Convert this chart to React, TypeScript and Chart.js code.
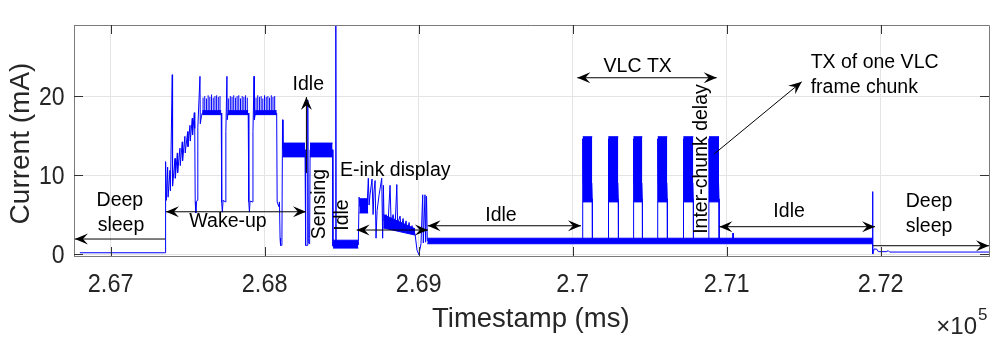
import React, { useEffect, useRef } from "react";
import { Chart, registerables } from "chart.js";

Chart.register(...registerables);

// ---------- axis data ----------
const xTicks = [267000, 268000, 269000, 270000, 271000, 272000];
const xTickLabels = ["2.67", "2.68", "2.69", "2.7", "2.71", "2.72"];
const yTicks = [0, 10, 20];
const yTickLabels = ["0", "10", "20"];
const xRange = [266762, 272703];
const yRange = [-0.25, 29];

// ---------- current trace [timestamp ms, current mA] ----------
const sleepTrace = [
  [266800, 0.16], [267352, 0.16],
];
const wakeupTrace = [
  [267353, 0.16], [267354, 6.4], [267356, 8.3], [267358, 6.5],
  [267359, 11.7], [267362, 6.8], [267370, 11.0], [267373, 7.2],
  [267385, 10.6], [267388, 8.0], [267400, 22.7], [267402, 8.6],
  [267418, 12.1], [267420, 9.6], [267433, 12.8], [267435, 10.3],
  [267450, 13.4], [267452, 11.2], [267465, 14.2], [267467, 11.8],
  [267482, 14.9], [267484, 12.8], [267500, 15.5], [267502, 13.6],
  [267515, 16.3], [267517, 14.3], [267530, 17.2], [267532, 15.1],
  [267543, 17.9], [267546, 15.9],
  [267549, 6.6], [267553, 5.2], [267557, 6.6], [267562, 6.8],
  [267566, 16.0], [267580, 22.5], [267582, 16.5], [267590, 17.5], [267595, 17.85],
  [267718, 17.85],
  [267721, 6.6], [267725, 5.3], [267730, 6.8], [267745, 6.6], [267748, 15.5],
  [267755, 22.5], [267757, 17.0], [267762, 17.85], [267893, 17.85],
  [267897, 6.6], [267901, 5.3], [267905, 6.7], [267920, 6.6], [267924, 15.5],
  [267931, 22.5], [267933, 17.0], [267940, 17.85], [268078, 17.85],
  [268081, 6.6], [268092, 6.0], [268096, 6.6], [268100, 2.0], [268103, 1.1],
  [268108, 1.1], [268112, 1.5],
];
const sensingTrace = [
  [268116, 17.0], [268119, 13.2], [268262, 13.2], [268264, 2.6], [268268, 1.1],
  [268276, 1.1], [268279, 2.5], [268281, 19.5], [268283, 1.6], [268289, 1.3],
  [268292, 2.0], [268295, 13.2], [268441, 13.2], [268443, 1.0], [268461, 1.3],
  [268462, 30], [268464, 1.3], [268606, 1.3],
];
const einkTrace = [
  [268608, 1.2], [268613, 7.2], [268619, 6.0], [268626, 6.8], [268639, 5.5],
  [268652, 6.9], [268665, 6.0], [268673, 9.6], [268678, 6.2], [268684, 7.5],
  [268697, 9.5], [268704, 5.0], [268710, 8.0], [268717, 9.3], [268723, 2.0],
  [268730, 5.5], [268743, 7.5], [268760, 9.6], [268766, 2.0], [268771, 8.7],
  [268775, 4.2], [268788, 5.0], [268801, 3.8], [268814, 8.7], [268821, 4.0],
  [268834, 5.0], [268847, 3.5], [268858, 8.8], [268863, 3.8], [268879, 4.8],
  [268886, 3.3], [268899, 4.5], [268905, 3.0], [268918, 4.2], [268925, 2.9],
  [268938, 4.0], [268944, 2.8], [268957, 3.6], [268964, 2.6], [268976, 2.6],
  [268989, 0.5], [269002, -0.1], [269008, 0.6], [269015, 1.3], [269026, 7.5],
  [269030, 1.4], [269041, 7.5], [269045, 1.5], [269051, 7.3], [269056, 1.7],
];
const vlcTrace = [
  [270063, 1.7], [270065, 14.6], [270068, 9.0], [270124, 9.0], [270127, 7.0], [270128, 1.7],
  [270230, 1.7], [270231, 14.6], [270234, 9.0], [270293, 9.0], [270296, 7.0], [270297, 1.7],
  [270393, 1.7], [270394, 14.6], [270397, 9.0], [270449, 9.0], [270452, 7.0], [270453, 1.7],
  [270551, 1.7], [270552, 14.6], [270555, 9.0], [270611, 9.0], [270614, 7.0], [270615, 1.7],
  [270717, 1.7], [270718, 14.6], [270721, 9.0], [270780, 9.0], [270783, 7.0], [270784, 1.7],
  [270884, 1.7], [270885, 14.6], [270888, 9.0], [270947, 9.0], [270950, 7.0], [270951, 1.7],
];
const endTrace = [
  [271040, 1.7], [271041, 2.66], [271042, 1.7],
  [271946, 1.7], [271947, 7.9], [271949, 0.0], [271952, 0.3], [271958, 0.65],
  [271975, 0.6], [271985, 0.3], [272040, 0.3], [272048, 0.45], [272058, 0.25],
  [272703, 0.25],
];

// dense noisy regions: [start ms, end ms, low mA at start, high mA at start, low at end, high at end]
const plateauBands = [
  [267595, 267718, 17.65, 18.15, 17.65, 18.15],
  [267760, 267893, 17.65, 18.15, 17.65, 18.15],
  [267938, 268078, 17.65, 18.15, 17.65, 18.15],
];
const sensingBands = [
  [268117, 268262, 12.3, 14.05, 12.3, 14.05],
  [268294, 268441, 12.3, 14.05, 12.3, 14.05],
];
const idleBands = [
  [268444, 268608, 0.75, 1.75, 0.75, 1.75],
  [269056, 271947, 1.3, 2.0, 1.3, 2.0],
];
const einkBands = [
  [268615, 268672, 5.2, 7.0, 5.2, 7.0],
  [268770, 268976, 3.3, 5.0, 2.4, 3.2],
];
const chunkBands = [
  [270065, 270127, 6.6, 14.85, 6.6, 14.85],
  [270231, 270296, 6.6, 14.85, 6.6, 14.85],
  [270394, 270452, 6.6, 14.85, 6.6, 14.85],
  [270552, 270614, 6.6, 14.85, 6.6, 14.85],
  [270718, 270783, 6.6, 14.85, 6.6, 14.85],
  [270885, 270950, 6.6, 14.85, 6.6, 14.85],
];

// small spikes on the wake-up plateaus
const plateauBase = 17.7;
const plateauSpikeTimes = [
  267600, 267611, 267622, 267633, 267644, 267655, 267666, 267677, 267688, 267699, 267710,
  267766, 267777, 267788, 267799, 267810, 267821, 267832, 267843, 267854, 267865, 267876, 267887,
  267944, 267955, 267966, 267977, 267988, 267999, 268010, 268021, 268032, 268043, 268054, 268065,
];
const plateauSpikeTops = [
  19.8, 20.0, 19.7, 20.1, 19.9, 20.2, 19.8, 20.0, 20.1, 19.9, 20.0,
  19.7, 20.0, 19.9, 20.1, 19.8, 20.0, 20.1, 19.7, 20.0, 19.9, 20.1, 19.8,
  19.8, 20.1, 19.9, 20.0, 19.7, 20.1, 19.9, 20.0, 19.8, 20.1, 19.9, 20.0,
];

// ---------- annotations (data coordinates) ----------
// [x1, y1, x2, y2, heads(1 = at end, 2 = both)]
const arrows = [
  [267353, 1.9, 266768, 1.9, 1],
  [267359, 5.35, 268268, 5.35, 2],
  [268271, 10.25, 268271, 19.87, 1],
  [268597, 3.04, 269060, 3.04, 2],
  [269058, 3.58, 270054, 3.58, 2],
  [270030, 22.32, 270935, 22.32, 2],
  [270918, 12.66, 271487, 21.81, 1],
  [270952, 3.46, 271963, 3.46, 2],
  [271950, 1.05, 272703, 1.05, 1],
];
// [text, x, baseline y, align, rotated]
const labels: [string, number, number, string, boolean][] = [
  ["Deep", 267060, 6.08, "center", false],
  ["sleep", 267067, 2.91, "center", false],
  ["Wake-up", 267762, 3.46, "center", false],
  ["Sensing", 268392, 6.33, "center", true],
  ["Idle", 268283, 20.76, "center", false],
  ["Idle", 268544, 4.94, "center", true],
  ["E-ink display", 268489, 9.87, "left", false],
  ["Idle", 269534, 4.22, "center", false],
  ["VLC TX", 270422, 23.08, "center", false],
  ["Inter-chunk delay", 270870, 12.03, "center", true],
  ["TX of one VLC", 271545, 23.51, "left", false],
  ["frame chunk", 271545, 20.42, "left", false],
  ["Idle", 271405, 4.65, "center", false],
  ["Deep", 272314, 5.99, "center", false],
  ["sleep", 272314, 2.82, "center", false],
];

const xTitle = "Timestamp (ms)";
const yTitle = "Current (mA)";

const BLUE = "#0000ff";
const FONT = '"Liberation Sans", Arial, Helvetica, sans-serif';

function arrowHead(ctx: CanvasRenderingContext2D, x: number, y: number, ang: number) {
  const len = 13, half = 5.5;
  ctx.save();
  ctx.translate(x, y);
  ctx.rotate(ang);
  ctx.beginPath();
  ctx.moveTo(0, 0);
  ctx.lineTo(-len, -half);
  ctx.lineTo(-len * 0.62, 0);
  ctx.lineTo(-len, half);
  ctx.closePath();
  ctx.fill();
  ctx.restore();
}

function narrowText(ctx: CanvasRenderingContext2D, t: string, x: number, y: number, sx: number) {
  ctx.save();
  ctx.translate(x, y);
  ctx.scale(sx, 1);
  ctx.fillText(t, 0, 0);
  ctx.restore();
}

const overlayPlugin = {
  id: "overlay",
  afterDraw(chart: any) {
    const ctx: CanvasRenderingContext2D = chart.ctx;
    const xs = chart.scales.x;
    const ys = chart.scales.y;
    const a = chart.chartArea;
    const X = (v: number) => xs.getPixelForValue(v);
    const Y = (v: number) => ys.getPixelForValue(v);
    ctx.save();

    // box top & right
    ctx.strokeStyle = "#7a7a7a";
    ctx.lineWidth = 1;
    ctx.beginPath();
    ctx.moveTo(Math.round(a.left), Math.round(a.top) + 0.5);
    ctx.lineTo(Math.round(a.right) + 0.5, Math.round(a.top) + 0.5);
    ctx.lineTo(Math.round(a.right) + 0.5, Math.round(a.bottom));
    ctx.stroke();

    // inward tick marks
    ctx.strokeStyle = "#333333";
    ctx.beginPath();
    xTicks.forEach((v) => {
      const px = Math.round(X(v)) + 0.5;
      ctx.moveTo(px, a.bottom);
      ctx.lineTo(px, a.bottom - 9);
      ctx.moveTo(px, a.top);
      ctx.lineTo(px, a.top + 9);
    });
    yTicks.forEach((v) => {
      const py = Math.round(Y(v)) + 0.5;
      ctx.moveTo(a.left, py);
      ctx.lineTo(a.left + 9, py);
      ctx.moveTo(a.right, py);
      ctx.lineTo(a.right - 9, py);
    });
    ctx.stroke();

    // arrows
    ctx.strokeStyle = "#000";
    ctx.fillStyle = "#000";
    ctx.lineWidth = 1;
    arrows.forEach(([x1, y1, x2, y2, h]) => {
      const p1x = X(x1), p1y = Y(y1), p2x = X(x2), p2y = Y(y2);
      ctx.beginPath();
      ctx.moveTo(p1x, p1y);
      ctx.lineTo(p2x, p2y);
      ctx.stroke();
      const ang = Math.atan2(p2y - p1y, p2x - p1x);
      arrowHead(ctx, p2x, p2y, ang);
      if (h === 2) arrowHead(ctx, p1x, p1y, ang + Math.PI);
    });

    // annotation texts
    ctx.font = `19.5px ${FONT}`;
    ctx.textBaseline = "alphabetic";
    labels.forEach(([t, x, y, align, rot]) => {
      ctx.save();
      ctx.translate(X(x), Y(y));
      if (rot) ctx.rotate(-Math.PI / 2);
      ctx.textAlign = align as CanvasTextAlign;
      ctx.fillText(t, 0, 0);
      ctx.restore();
    });

    // tick labels
    ctx.fillStyle = "#262626";
    ctx.font = `25px ${FONT}`;
    ctx.textAlign = "center";
    xTicks.forEach((v, i) => {
      narrowText(ctx, xTickLabels[i], X(v), a.bottom + 36, 0.94);
    });
    ctx.textAlign = "right";
    yTicks.forEach((v, i) => {
      narrowText(ctx, yTickLabels[i], a.left - 9.5, Y(v) + 9, 0.92);
    });

    // x exponent
    ctx.font = `24px ${FONT}`;
    ctx.textAlign = "right";
    ctx.fillText("\u00d710", 977, 334);
    ctx.font = `17px ${FONT}`;
    ctx.textAlign = "left";
    ctx.fillText("5", 978, 320);

    // axis titles
    ctx.font = `27.5px ${FONT}`;
    ctx.textAlign = "center";
    ctx.fillText(xTitle, (a.left + a.right) / 2 - 0.7, 326.5);
    ctx.save();
    ctx.translate(28.5, 143.5);
    ctx.rotate(-Math.PI / 2);
    ctx.font = `28px ${FONT}`;
    ctx.fillText(yTitle, 0, 0);
    ctx.restore();

    ctx.restore();
  },
};

function toXY(arr: number[][]) {
  return arr.map(([x, y]) => ({ x, y }));
}

export default function App() {
  const ref = useRef<HTMLCanvasElement | null>(null);
  useEffect(() => {
    if (!ref.current) return;
    const datasets: any[] = [];
    const bandGroups = [plateauBands, sensingBands, idleBands, einkBands, chunkBands];
    bandGroups.forEach((group) =>
      group.forEach(([t0, t1, lo0, hi0, lo1, hi1]) => {
        datasets.push({
          data: [{ x: t0, y: lo0 }, { x: t1, y: lo1 }],
          borderColor: BLUE,
          borderWidth: 1,
          pointRadius: 0,
          fill: false,
        });
        datasets.push({
          data: [{ x: t0, y: hi0 }, { x: t1, y: hi1 }],
          borderColor: BLUE,
          borderWidth: 1,
          backgroundColor: BLUE,
          pointRadius: 0,
          fill: "-1",
        });
      })
    );
    const trace = toXY([
      ...sleepTrace, ...wakeupTrace, ...sensingTrace, ...einkTrace, ...vlcTrace, ...endTrace,
    ]);
    datasets.push({
      data: trace,
      borderColor: BLUE,
      borderWidth: 1,
      pointRadius: 0,
      fill: false,
      tension: 0,
    });
    const spikes: any[] = [];
    plateauSpikeTimes.forEach((t, i) => {
      spikes.push({ x: t, y: plateauBase });
      spikes.push({ x: t, y: plateauSpikeTops[i] });
      spikes.push({ x: t, y: null });
    });
    datasets.push({
      data: spikes,
      borderColor: BLUE,
      borderWidth: 1,
      pointRadius: 0,
      fill: false,
      spanGaps: false,
    });

    const chart = new Chart(ref.current, {
      type: "line",
      data: { datasets },
      options: {
        animation: false,
        responsive: false,
        devicePixelRatio: 1,
        events: [],
        layout: { padding: { left: 74, top: 25, right: 7, bottom: 86 } },
        plugins: { legend: { display: false }, tooltip: { enabled: false } },
        scales: {
          x: {
            type: "linear",
            min: xRange[0],
            max: xRange[1],
            afterBuildTicks: (s: any) => {
              s.ticks = xTicks.map((v) => ({ value: v }));
            },
            ticks: { display: false },
            grid: { color: "#e4e4e4", drawTicks: false },
            border: { color: "#7a7a7a" },
          },
          y: {
            type: "linear",
            min: yRange[0],
            max: yRange[1],
            afterBuildTicks: (s: any) => {
              s.ticks = yTicks.map((v) => ({ value: v }));
            },
            ticks: { display: false },
            grid: { color: "#e4e4e4", drawTicks: false },
            border: { color: "#7a7a7a" },
          },
        },
      },
      plugins: [overlayPlugin],
    });
    return () => chart.destroy();
  }, []);

  return (
    <div style={{ position: "absolute", left: 0, top: 0, width: 996, height: 342, background: "#fff" }}>
      <canvas ref={ref} width={996} height={342} style={{ width: 996, height: 342, display: "block" }} />
    </div>
  );
}
